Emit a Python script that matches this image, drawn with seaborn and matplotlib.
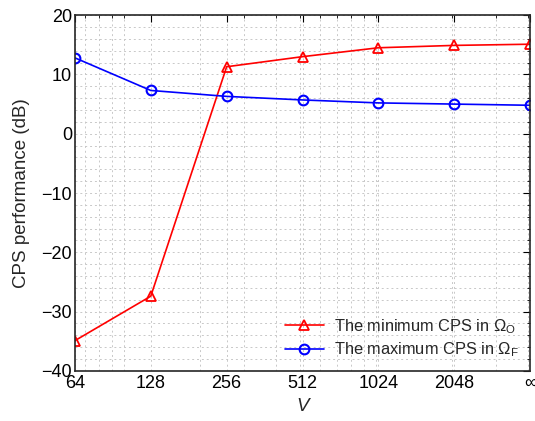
import matplotlib
matplotlib.use("Agg")
import matplotlib.pyplot as plt
import matplotlib.ticker as mticker
import seaborn as sns
import pandas as pd

V_values = [64, 128, 256, 512, 1024, 2048, 4096]
V_labels = ["64", "128", "256", "512", "1024", "2048", "\u221e"]
min_cps_O = [-34.9, -27.4, 11.3, 13.0, 14.5, 14.9, 15.1]
max_cps_F = [12.8, 7.3, 6.3, 5.7, 5.2, 5.0, 4.8]
series_names = [r"The minimum CPS in $\mathit{\Omega}_{\mathrm{O}}$",
                r"The maximum CPS in $\mathit{\Omega}_{\mathrm{F}}$"]

sns.set_style("white")
plt.rcParams["font.family"] = ["Liberation Sans", "DejaVu Sans"]
plt.rcParams["mathtext.fontset"] = "custom"
plt.rcParams["mathtext.rm"] = "Liberation Sans"
plt.rcParams["mathtext.it"] = "Liberation Sans:italic"
plt.rcParams["mathtext.bf"] = "Liberation Sans:bold"

fig = plt.figure(figsize=(5.35, 4.21), dpi=100)
ax = fig.add_axes([0.140, 0.119, 0.851, 0.845])

df1 = pd.DataFrame({"V": V_values, "cps": min_cps_O})
df2 = pd.DataFrame({"V": V_values, "cps": max_cps_F})
sns.lineplot(data=df1, x="V", y="cps", ax=ax, color="#ff0000", marker="^",
             markersize=7.5, markerfacecolor="none", markeredgecolor="#ff0000",
             markeredgewidth=1.3, linewidth=1.2, label=series_names[0])
sns.lineplot(data=df2, x="V", y="cps", ax=ax, color="#0000ff", marker="o",
             markersize=7, markerfacecolor="none", markeredgecolor="#0000ff",
             markeredgewidth=1.5, linewidth=1.2, label=series_names[1])

ax.set_xscale("log", base=2)
ax.set_xlim(64, 4096)
ax.set_ylim(-40, 20)
ax.xaxis.set_major_locator(mticker.FixedLocator(V_values))
ax.xaxis.set_major_formatter(mticker.FixedFormatter(V_labels))
ax.xaxis.set_minor_locator(mticker.LogLocator(base=10, subs=range(1, 10)))
ax.xaxis.set_minor_formatter(mticker.NullFormatter())
ax.yaxis.set_major_locator(mticker.MultipleLocator(10))
ax.yaxis.set_minor_locator(mticker.MultipleLocator(2))

ax.grid(True, which="both", linestyle=(0, (2, 3)), color="#c8c8c8", linewidth=0.7)
ax.set_axisbelow(True)
ax.tick_params(which="both", direction="in", top=True, right=True,
               labelsize=13, colors="black")
ax.tick_params(which="major", length=5, width=0.8, pad=2)
ax.tick_params(axis="x", which="major", pad=3)
ax.tick_params(which="minor", length=2.5, width=0.6)
for s in ax.spines.values():
    s.set_color("#262626")
    s.set_linewidth(1.2)
    s.set_visible(True)

ax.set_xlabel("V", fontsize=13.5, style="italic", labelpad=4)
ax.set_ylabel("CPS performance (dB)", fontsize=13.5, labelpad=8)

leg = ax.legend(loc="lower right", frameon=False, fontsize=11.8,
                handlelength=2.4, borderaxespad=0.3, labelspacing=0.3,
                handletextpad=0.6)

fig.savefig("out.png", dpi=100)
